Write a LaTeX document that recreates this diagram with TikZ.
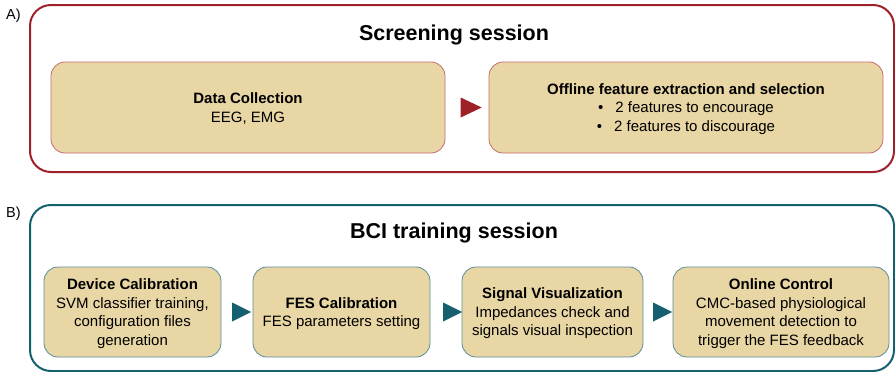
\documentclass[tikz,border=0pt]{standalone}
\usepackage{fontspec}
\setmainfont{Liberation Sans}
\usetikzlibrary{shapes.geometric,calc}

\definecolor{sessRed}{HTML}{9E2128}
\definecolor{boxRed}{HTML}{C66B6E}
\definecolor{sessTeal}{HTML}{15606F}
\definecolor{boxTeal}{HTML}{5A8D99}
\definecolor{stepFill}{HTML}{E8D6A4}

\tikzset{
  panelA/.style={draw=sessRed, line width=2pt, rounded corners=21pt},
  panelB/.style={draw=sessTeal, line width=2pt, rounded corners=21pt},
  stepbox/.style={rectangle, rounded corners=14pt, fill=stepFill, line width=0.8pt,
    align=center, inner sep=0pt, text depth=0pt, font=\fontsize{15}{18.5}\selectfont},
  stepA/.style={stepbox, draw=boxRed},
  stepB/.style={stepbox, draw=boxTeal},
  tri/.style={isosceles triangle, isosceles triangle stretches, inner sep=0pt,
    minimum width=20pt, minimum height=21pt},
  triA/.style={tri, fill=sessRed},
  triB/.style={tri, fill=sessTeal, minimum width=19pt, minimum height=19pt},
  paneltitle/.style={font=\bfseries\fontsize{21.5}{24}\selectfont},
  tag/.style={font=\fontsize{14.5}{17}\selectfont, anchor=west, inner sep=0pt}
}

\begin{document}
\begin{tikzpicture}[x=1pt, y=-1pt]
  \useasboundingbox (0,0) rectangle (895,372);

  % ---------- A) screening session ----------
  \node[tag] (labA) at (6,16) {A)};
  \draw[panelA] (30,5) rectangle (894,172);
  \node[paneltitle] (titleA) at (454,35) {Screening session};

  \node[stepA, minimum width=394pt, minimum height=91pt] (collect) at (248,107.5)
    {\textbf{Data Collection}\\EEG, EMG};
  \node[stepA, minimum width=394pt, minimum height=91pt] (offline) at (686,107.5)
    {\textbf{Offline feature extraction and selection}\\
     •\hspace{12pt}2 features to encourage\\
     •\hspace{12pt}2 features to discourage};
  \node[triA] (arrA) at ($(collect.east)!0.5!(offline.west)$) {};

  % ---------- B) BCI training session ----------
  \node[tag] (labB) at (6,214) {B)};
  \draw[panelB] (30,205) rectangle (894,371);
  \node[paneltitle] (titleB) at (454,232.5) {BCI training session};

  \node[stepB, minimum width=177pt, minimum height=90pt] (device) at (132.5,312)
    {\textbf{Device Calibration}\\SVM classifier training,\\configuration files\\generation};
  \node[stepB, minimum width=177pt, minimum height=90pt] (fes) at (341.5,312)
    {\textbf{FES Calibration}\\FES parameters setting};
  \node[stepB, minimum width=181pt, minimum height=90pt] (signal) at (552.5,312)
    {\textbf{Signal Visualization}\\Impedances check and\\signals visual inspection};
  \node[stepB, minimum width=216pt, minimum height=90pt] (online) at (781,312)
    {\textbf{Online Control}\\CMC-based physiological\\movement detection to\\trigger the FES feedback};

  \node[triB] (arrB1) at ($(device.east)!0.5!(fes.west)+(1,0)$) {};
  \node[triB] (arrB2) at ($(fes.east)!0.5!(signal.west)+(3,0)$) {};
  \node[triB] (arrB3) at ($(signal.east)!0.5!(online.west)+(1,0)$) {};
\end{tikzpicture}
\end{document}
